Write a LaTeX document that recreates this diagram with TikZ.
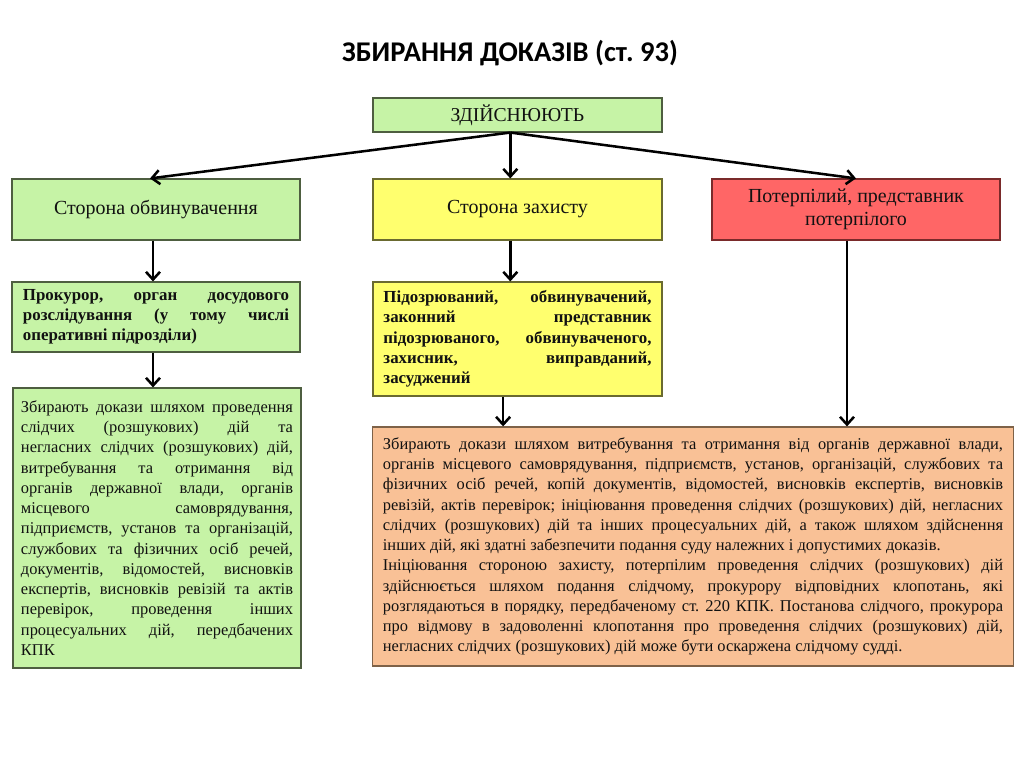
\documentclass[tikz,border=0pt]{standalone}
\usepackage{fontspec}
\setmainfont{Liberation Serif}
\newfontfamily\titlefont{Carlito}
\usetikzlibrary{arrows.meta}
\frenchspacing
\definecolor{boxgreen}{HTML}{C6F3A6}
\definecolor{boxyellow}{HTML}{FFFF6E}
\definecolor{boxred}{HTML}{FF6666}
\definecolor{boxorange}{HTML}{F9C196}
\definecolor{linegreen}{HTML}{4E5E40}
\definecolor{lineyellow}{HTML}{6A6A30}
\definecolor{linered}{HTML}{7A2A2A}
\definecolor{lineorange}{HTML}{7E6248}
\definecolor{textdark}{HTML}{111111}

\begin{document}
\begin{tikzpicture}[x=0.025cm, y=-0.025cm, >=Stealth,
    box/.style={draw, line width=0.8pt, text=textdark, inner sep=0pt, align=center},
    headbox/.style={box, minimum height=1.525cm, minimum width=7.2cm, font=\fontsize{14.2}{16.5}\selectfont},
    textbox/.style={box, align=justify, font=\fontsize{11.7}{14.4}\selectfont},
    arr/.style={line width=1.8pt, -{Straight Barb[length=5.5pt, width=10pt]}}]

    % Canvas
    \useasboundingbox (0,0) rectangle (1024,768);

    % Title
    \node[font=\titlefont\bfseries\fontsize{20.3}{24}\selectfont] (title) at (510,53) {ЗБИРАННЯ ДОКАЗІВ (ст. 93)};

    % Top box
    \node[box, fill=boxgreen, draw=linegreen, minimum width=7.225cm, minimum height=0.85cm,
          font=\fontsize{14}{16}\selectfont] (top) at (517.5,115) {ЗДІЙСНЮЮТЬ};

    % Three sides
    \node[headbox, fill=boxgreen, draw=linegreen] (accuse) at (156,209.5) {Сторона обвинувачення};
    \node[headbox, fill=boxyellow, draw=lineyellow, minimum width=7.225cm] (defence) at (517.5,209.5) {Сторона захисту};
    \node[headbox, fill=boxred, draw=linered] (victim) at (856,209.5) {Потерпілий, представник\\потерпілого};

    % Who exactly
    \node[textbox, fill=boxgreen, draw=linegreen, font=\bfseries\fontsize{12}{14.4}\selectfont,
          text width=6.65cm, minimum width=7.2cm, minimum height=1.75cm] (prosecutor) at (156,317)
        {Прокурор, орган досудового\linebreak розслідування (у тому числі\linebreak оперативні підрозділи)};
    \node[textbox, fill=boxyellow, draw=lineyellow, font=\bfseries\fontsize{12}{14.4}\selectfont,
          text width=6.7cm, minimum width=7.225cm, minimum height=2.85cm] (suspects) at (517.5,339)
        {Підозрюваний, обвинувачений,\linebreak законний представник\linebreak підозрюваного, обвинуваченого,\linebreak захисник, виправданий,\linebreak засуджений};

    % How they collect
    \node[textbox, fill=boxgreen, draw=linegreen, text width=6.8cm, minimum width=7.2cm,
          minimum height=7cm] (accusecollect) at (157,528)
        {\hyphenpenalty=10000 Збирають докази шляхом проведення\linebreak слідчих (розшукових) дій та\linebreak
         негласних слідчих (розшукових) дій,\linebreak витребування та отримання від\linebreak
         органів державної влади, органів\linebreak місцевого самоврядування,\linebreak
         підприємств, установ та організацій,\linebreak службових та фізичних осіб речей,\linebreak
         документів, відомостей, висновків\linebreak експертів, висновків ревізій та актів\linebreak
         перевірок, проведення інших\linebreak процесуальних дій, передбачених\linebreak КПК};
    \node[textbox, fill=boxorange, draw=lineorange, text width=15.5cm, minimum width=16cm,
          minimum height=5.975cm] (defcollect) at (693,546.5)
        {\hyphenpenalty=10000 Збирають докази шляхом витребування та отримання від органів державної влади,\linebreak
         органів місцевого самоврядування, підприємств, установ, організацій, службових та\linebreak
         фізичних осіб речей, копій документів, відомостей, висновків експертів, висновків\linebreak
         ревізій, актів перевірок; ініціювання проведення слідчих (розшукових) дій, негласних\linebreak
         слідчих (розшукових) дій та інших процесуальних дій, а також шляхом здійснення\linebreak
         інших дій, які здатні забезпечити подання суду належних і допустимих доказів.\par
         Ініціювання стороною захисту, потерпілим проведення слідчих (розшукових) дій\linebreak
         здійснюється шляхом подання слідчому, прокурору відповідних клопотань, які\linebreak
         розглядаються в порядку, передбаченому ст. 220 КПК. Постанова слідчого, прокурора\linebreak
         про відмову в задоволенні клопотання про проведення слідчих (розшукових) дій,\linebreak
         негласних слідчих (розшукових) дій може бути оскаржена слідчому судді.};

    % Connectors
    \coordinate (fork) at ([xshift=-0.18cm]top.south);
    \draw[arr] (fork) -- ([xshift=-0.15cm]accuse.north);
    \draw[arr] (fork) -- (fork |- defence.north);
    \draw[arr] (fork) -- (victim.north);

    \coordinate (leftline) at ([xshift=-0.075cm]accuse.south);
    \draw[arr] (leftline) -- (leftline |- prosecutor.north);
    \coordinate (leftline2) at ([xshift=-0.075cm]prosecutor.south);
    \draw[arr] (leftline2) -- (leftline2 |- accusecollect.north);

    \draw[arr] (defence.south -| fork) -- (fork |- suspects.north);
    \coordinate (midline) at ([xshift=-0.36cm]suspects.south);
    \draw[arr] (midline) -- (midline |- defcollect.north);
    \coordinate (rightline) at ([xshift=-0.225cm]victim.south);
    \draw[arr] (rightline) -- (rightline |- defcollect.north);

\end{tikzpicture}
\end{document}
